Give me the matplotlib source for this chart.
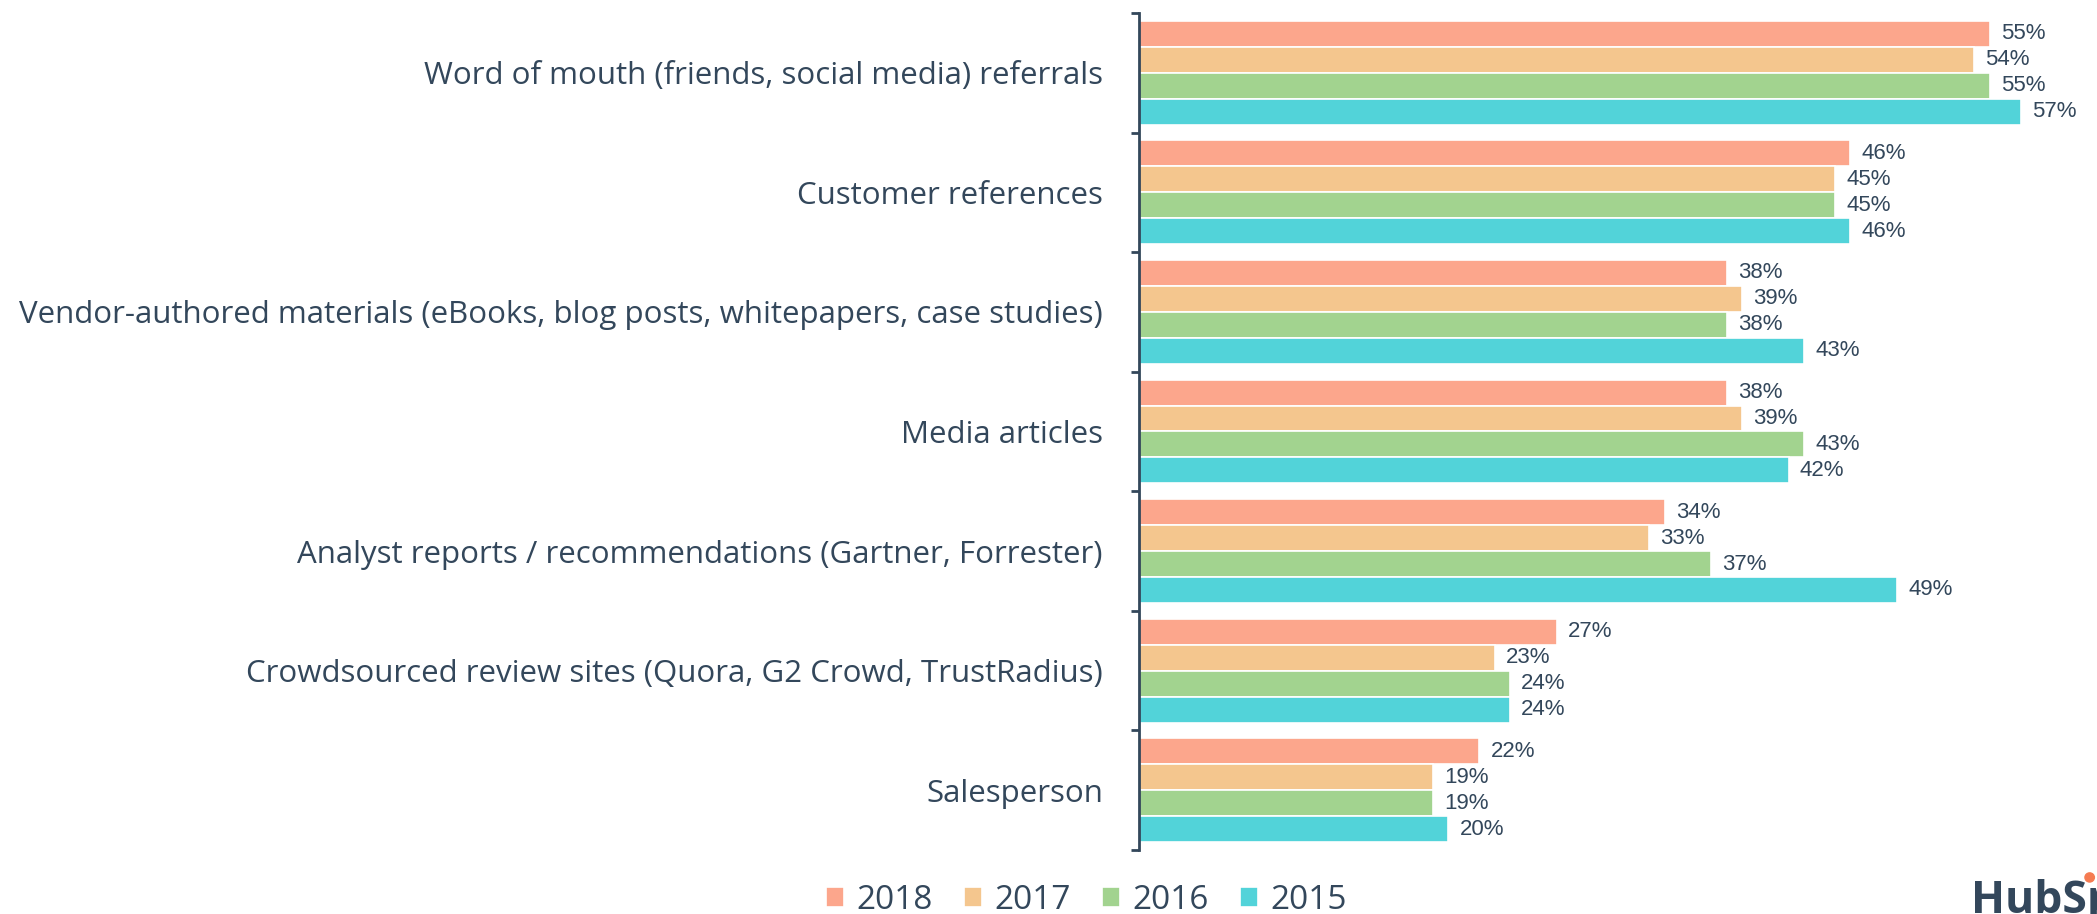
import numpy as np
import matplotlib.pyplot as plt
from matplotlib.patches import Ellipse

categories = [
    "Word of mouth (friends, social media) referrals",
    "Customer references",
    "Vendor-authored materials (eBooks, blog posts, whitepapers, case studies)",
    "Media articles",
    "Analyst reports / recommendations (Gartner, Forrester)",
    "Crowdsourced review sites (Quora, G2 Crowd, TrustRadius)",
    "Salesperson",
]
years = ["2018", "2017", "2016", "2015"]
vals_2018 = [55, 46, 38, 38, 34, 27, 22]
vals_2017 = [54, 45, 39, 39, 33, 23, 19]
vals_2016 = [55, 45, 38, 43, 37, 24, 19]
vals_2015 = [57, 46, 43, 42, 49, 24, 20]
series = [vals_2018, vals_2017, vals_2016, vals_2015]
colors = ["#FCA68C", "#F4C68E", "#A2D38F", "#52D3D9"]

dark = "#33475B"

fig = plt.figure(figsize=(20.97, 9.14), dpi=100)
ax = fig.add_axes([0.5432, 0.070, 0.4425, 0.9158])

y = np.arange(len(categories))
step = 0.217
for i, (vals, c, yr) in enumerate(zip(series, colors, years)):
    pos = y + (i - 1.5) * step
    bars = ax.barh(pos, vals, height=step, color=c, edgecolor="white",
                   linewidth=1.2, label=yr)
    for b, v in zip(bars, vals):
        ax.annotate(f"{v}%", (b.get_width(), b.get_y() + b.get_height() / 2),
                    xytext=(8, 0), textcoords="offset points",
                    ha="left", va="center", fontsize=16,
                    family="Liberation Sans", color=dark)

ax.set_xlim(0, 60)
ax.set_ylim(len(categories) - 0.5, -0.5)

# category labels, with ticks on the group boundaries
ax.set_yticks(y)
ax.set_yticklabels(categories, fontsize=22.5, family="Open Sans", color=dark)
ax.tick_params(axis="y", which="major", length=0, pad=26)
ax.set_yticks(np.arange(-0.5, len(categories)), minor=True)
ax.tick_params(axis="y", which="minor", length=6, width=2, color=dark)
ax.set_xticks([])

for s in ["top", "right", "bottom"]:
    ax.spines[s].set_visible(False)
ax.spines["left"].set_color(dark)
ax.spines["left"].set_linewidth(2)

leg = fig.legend(loc="lower center", bbox_to_anchor=(0.518, -0.036), ncol=4,
                 frameon=False, handlelength=0.55, handleheight=0.55,
                 handletextpad=0.35, columnspacing=0.95,
                 prop={"family": "Open Sans", "size": 24})
for t in leg.get_texts():
    t.set_color(dark)

# brand mark in the bottom right corner, running off the edge
fig.text(0.940, 0.001, "HubSpot", fontsize=32, fontweight="bold",
         family="Open Sans", color=dark, ha="left", va="baseline")
fig.add_artist(Ellipse((0.9965, 0.040), 0.0045, 0.010,
                       transform=fig.transFigure, color="#F57B51"))

fig.savefig("out.png", dpi=100)
